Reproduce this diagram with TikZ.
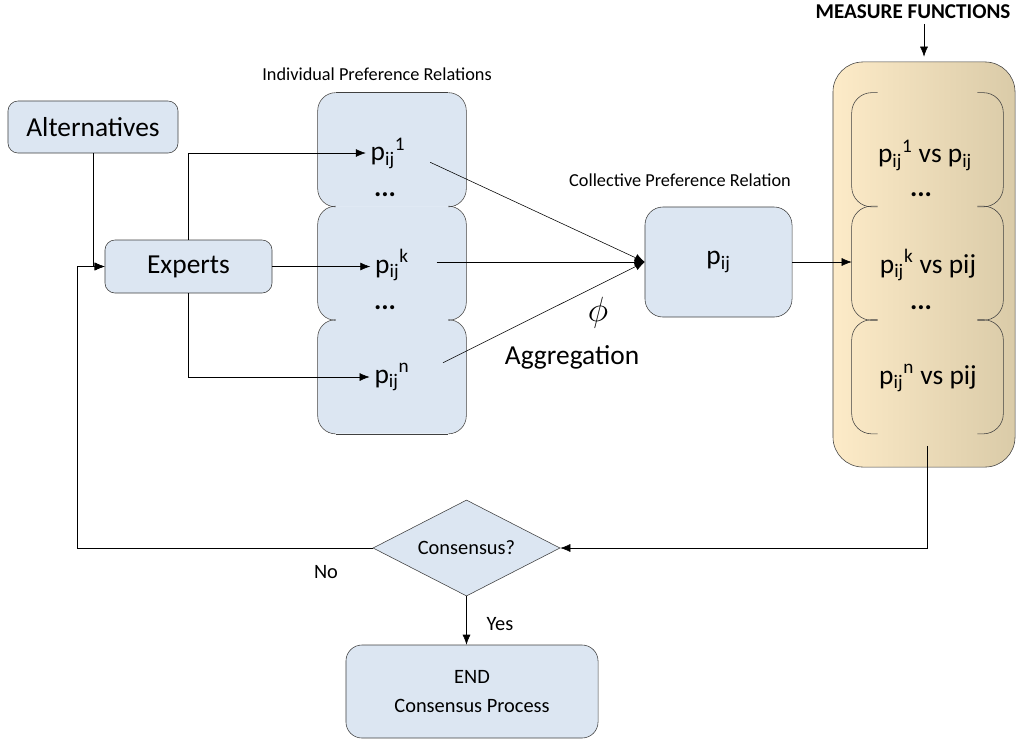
\documentclass[tikz,border=0pt]{standalone}
\usepackage{fontspec}
\setmainfont{Carlito}
\usetikzlibrary{arrows.meta,shapes.geometric}
\definecolor{boxblue}{HTML}{DCE6F2}
\definecolor{boxline}{HTML}{404040}
\definecolor{tanleft}{HTML}{FDEBC8}
\definecolor{tanmid}{HTML}{F1E6CD}
\definecolor{tanright}{HTML}{DACBA8}
\newcommand\pij[1]{p\textsubscript{ij}\textsuperscript{#1}}
\newcommand\bigtxt{\fontsize{19.5}{22}\selectfont}
\newcommand\midtxt{\fontsize{14.5}{20}\selectfont}
\newcommand\smalltxt{\fontsize{13}{15}\selectfont}

\begin{document}
\begin{tikzpicture}[x=0.025cm,y=-0.025cm,
  box/.style={draw=boxline,fill=boxblue,rounded corners=0.25cm},
  relbox/.style={fill=boxblue,rounded corners=0.45cm,minimum width=3.7cm,minimum height=2.84cm},
  measbox/.style={minimum width=3.775cm,minimum height=2.84cm},
  arr/.style={-{Latex[length=2.5mm,width=2mm]}}]
\useasboundingbox (0,0) rectangle (1016,744);

\node[box,minimum width=4.25cm,minimum height=1.3cm,font=\bigtxt] (alt) at (93,127) {Alternatives};
\node[box,minimum width=4.175cm,minimum height=1.325cm,font=\bigtxt] (experts) at (188.5,266.5) {Experts};

% individual preference relations
\node[relbox] (ind1) at (392,149.75) {};
\node[relbox] (ind2) at (392,263.25) {};
\node[relbox] (ind3) at (392,376.75) {};
\foreach \b in {ind1,ind2,ind3} {
  \draw[boxline,rounded corners=0.45cm] ([xshift=0.45cm]\b.north west) -- (\b.north west) -- (\b.south west) -- ([xshift=0.45cm]\b.south west);
  \draw[boxline,rounded corners=0.45cm] ([xshift=-0.45cm]\b.north east) -- (\b.north east) -- (\b.south east) -- ([xshift=-0.45cm]\b.south east);
}
\draw[boxline] ([xshift=0.45cm]ind1.north west) -- ([xshift=-0.45cm]ind1.north east);
\draw[boxline] ([xshift=0.45cm]ind3.south west) -- ([xshift=-0.45cm]ind3.south east);
\node[font=\smalltxt] (indlabel) at (377,74) {Individual Preference Relations};

\node[font=\bigtxt] (p1) at (388,153) {\pij{1}};
\node[font=\bigtxt] (d1) at (385,195) {\textbf{...}};
\node[font=\bigtxt] (pk) at (392,265) {\pij{k}};
\node[font=\bigtxt] (d2) at (385,308) {\textbf{...}};
\node[font=\bigtxt] (pn) at (392,377) {\pij{n}};

% collective preference relation
\node[box,rounded corners=0.45cm,minimum width=3.675cm,minimum height=2.75cm,font=\bigtxt] (coll) at (718.5,262) {p\textsubscript{ij}};
\node[font=\smalltxt] (colllabel) at (680,180) {Collective Preference Relation};
\node (phi) at (598,313) {\fontsize{24}{24}\selectfont$\phi$};
\node[font=\bigtxt] (agg) at (572,357) {Aggregation};

% measure functions
\node[draw=boxline,rounded corners=0.75cm,left color=tanleft,middle color=tanmid,right color=tanright,minimum width=4.55cm,minimum height=10.125cm] (measure) at (924,264.5) {};
\node[measbox] (meas1) at (927.5,149.75) {};
\node[measbox] (meas2) at (927.5,263.25) {};
\node[measbox] (meas3) at (927.5,376.75) {};
\foreach \b in {meas1,meas2,meas3} {
  \draw[boxline,rounded corners=0.5cm] ([xshift=0.65cm]\b.north west) -- (\b.north west) -- (\b.south west) -- ([xshift=0.65cm]\b.south west);
  \draw[boxline,rounded corners=0.5cm] ([xshift=-0.65cm]\b.north east) -- (\b.north east) -- (\b.south east) -- ([xshift=-0.65cm]\b.south east);
}
\node[font=\bigtxt] (m1) at (925,155) {\pij{1} vs p\textsubscript{ij}};
\node[font=\bigtxt] (md1) at (921,195) {\textbf{...}};
\node[font=\bigtxt] (mk) at (928,265) {\pij{k} vs pij};
\node[font=\bigtxt] (md2) at (921,308) {\textbf{...}};
\node[font=\bigtxt] (mn) at (928,378) {\pij{n} vs pij};
\node[font=\fontsize{15}{17}\selectfont\bfseries] (mtitle) at (913,12) {MEASURE FUNCTIONS};

% consensus
\node[diamond,draw=boxline,fill=boxblue,aspect=2,inner sep=0pt,minimum width=4.675cm,minimum height=2.4cm,font=\midtxt] (consensus) at (466.5,548) {Consensus?};
\node[box,rounded corners=0.4cm,minimum width=6.3cm,minimum height=2.325cm,font=\midtxt,align=center] (endbox) at (472,691.5) {END\\Consensus Process};
\node[font=\midtxt] (no) at (326,572) {No};
\node[font=\midtxt] (yes) at (500,624) {Yes};
\coordinate (fb) at (77,548);

\draw[arr] (alt.south) |- (experts.west);
\draw[arr] (consensus.west) -- (fb) |- (experts.west);
\draw[arr] (experts.north) |- (p1.west);
\draw[arr] (experts.east) -- (experts.east -| pk.west);
\draw[arr] (experts.south) |- (pn.west);
\draw[arr,shorten <=0.55cm] (p1.east) -- (coll.west);
\draw[arr,shorten <=0.57cm] (pk.east |- coll.west) -- (coll.west);
\draw[arr,shorten <=0.8cm] (pn.east) -- (coll.west);
\draw[arr] (coll.east) -- (coll.east -| meas2.west);
\draw[arr,shorten >=1.25mm] (mtitle.south -| measure.north) -- (measure.north);
\draw[arr] ([yshift=-3mm]meas3.south) |- (consensus.east);
\draw[arr] (consensus.south) -- (consensus.south |- endbox.north);
\end{tikzpicture}
\end{document}
